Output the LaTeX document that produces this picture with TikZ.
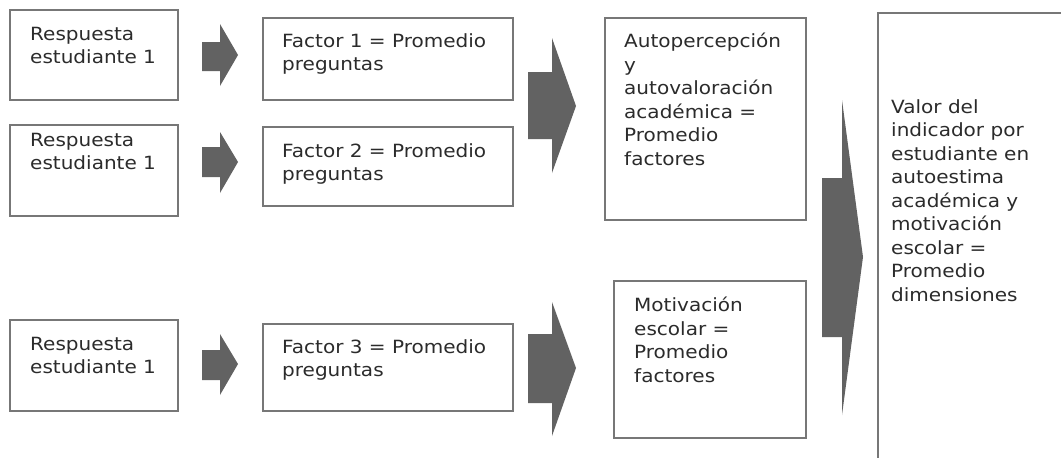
\documentclass[tikz,border=0pt]{standalone}
\usepackage{fontspec}
\setmainfont[FakeStretch=1.1]{DejaVu Sans}
\definecolor{boxline}{HTML}{777777}
\definecolor{arrowfill}{HTML}{626262}
\definecolor{txt}{HTML}{2B2B2B}
\tikzset{
  box/.style={draw=boxline, line width=2.2pt, fill=white, inner sep=0pt, anchor=north west},
  lbl/.style={anchor=north west, inner sep=0pt, align=left, text=txt,
              font=\fontsize{18.2}{23.5}\selectfont},
  blockarrow/.style={fill=arrowfill, draw=none}
}
% x0, x1, x2, tip y, body top, body bottom, head top, head bottom
\newcommand{\blkarrow}[8]{%
  \fill[blockarrow] (#1,#5) -- (#2,#5) -- (#2,#7) -- (#3,#4) -- (#2,#8) -- (#2,#6) -- (#1,#6) -- cycle;}
\begin{document}
\begin{tikzpicture}[x=1pt,y=-1pt]
\useasboundingbox (0,0) rectangle (1061,458);
\fill[white] (0,0) rectangle (1061,458);
\begin{scope}
\clip (0,0) rectangle (1061,458);
% boxes
\node[box, minimum width=168pt, minimum height=90pt] (r1) at (9,9) {};
\node[box, minimum width=168pt, minimum height=91pt] (r2) at (9,124) {};
\node[box, minimum width=168pt, minimum height=91pt] (r3) at (9,319) {};
\node[box, minimum width=250pt, minimum height=82pt] (f1) at (262,17) {};
\node[box, minimum width=250pt, minimum height=79pt] (f2) at (262,126) {};
\node[box, minimum width=250pt, minimum height=87pt] (f3) at (262,323) {};
\node[box, minimum width=201pt, minimum height=202pt] (ap) at (604,17) {};
\node[box, minimum width=192pt, minimum height=157pt] (mo) at (613,280) {};
\node[box, minimum width=200pt, minimum height=470pt] (va) at (877,12) {};
% texts
\node[lbl] (r1t) at (30,27) {Respuesta\\estudiante 1};
\node[lbl] (r2t) at (30,133) {Respuesta\\estudiante 1};
\node[lbl] (r3t) at (30,337) {Respuesta\\estudiante 1};
\node[lbl] (f1t) at (282,33) {Factor 1 = Promedio\\preguntas};
\node[lbl] (f2t) at (282,143) {Factor 2 = Promedio\\preguntas};
\node[lbl] (f3t) at (282,339) {Factor 3 = Promedio\\preguntas};
\node[lbl] (apt) at (624,33) {Autopercepción\\y\\autovaloración\\académica =\\Promedio\\factores};
\node[lbl] (mot) at (634,297) {Motivación\\escolar =\\Promedio\\factores};
\node[lbl] (vat) at (891,99) {Valor del\\indicador por\\estudiante en\\autoestima\\académica y\\motivación\\escolar =\\Promedio\\dimensiones};
% block arrows
\blkarrow{202}{220}{238}{55}{42}{71}{24}{86}
\blkarrow{202}{220}{238}{162}{147}{177}{132}{193}
\blkarrow{202}{220}{238}{364}{350}{380}{334}{395}
\blkarrow{528}{552}{576}{106}{72}{139}{38}{173}
\blkarrow{528}{552}{576}{368}{334}{403}{302}{436}
\blkarrow{822}{842}{863}{257}{178}{337}{100}{415}
\end{scope}
\end{tikzpicture}
\end{document}
